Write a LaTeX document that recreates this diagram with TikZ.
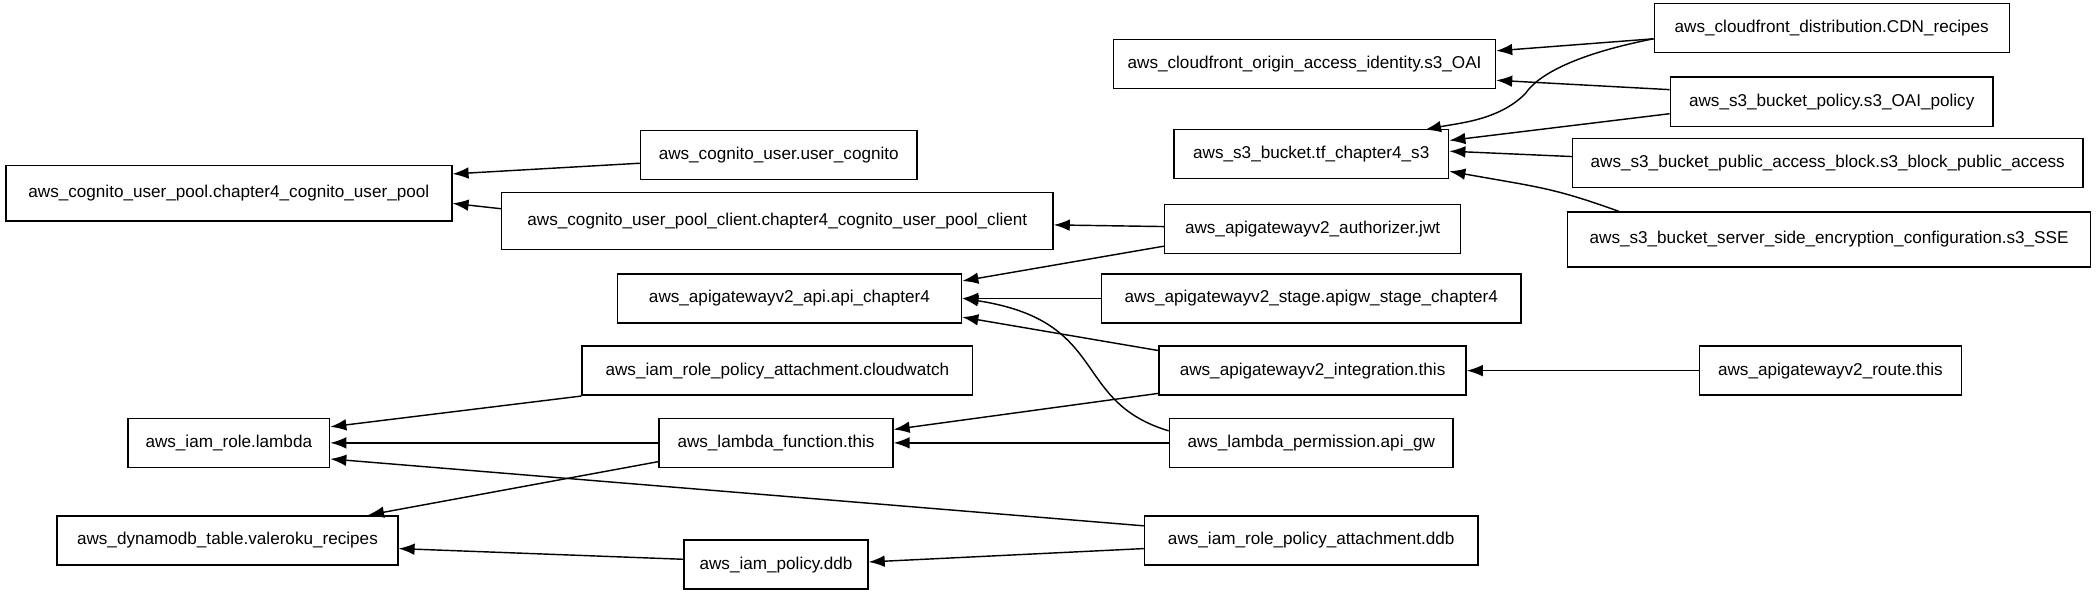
\documentclass[tikz,border=0pt]{standalone}
\usepackage{fontspec}
\setmainfont{Liberation Sans}
\usetikzlibrary{arrows.meta,calc}
\begin{document}
\begin{tikzpicture}[x=0.75pt,y=-0.75pt,
  box/.style={draw,thick,fill=white,minimum height=27.5pt,inner sep=2pt,font=\fontsize{9.6}{11}\selectfont},
  edge/.style={-{Latex[length=9pt,width=6.5pt]},thick}]
\useasboundingbox (0,0) rectangle (1568,445);
\fill[white] (0,0) rectangle (1568,445);
\node[box,minimum width=250pt,minimum height=31pt] (cup) at (171,144.5) {aws\_cognito\_user\_pool.chapter4\_cognito\_user\_pool};
\node[box,minimum width=155pt] (cu) at (582,116) {aws\_cognito\_user.user\_cognito};
\node[box,minimum width=309pt,minimum height=32pt] (cupc) at (581,165) {aws\_cognito\_user\_pool\_client.chapter4\_cognito\_user\_pool\_client};
\node[box,minimum width=166pt] (auth) at (981,171) {aws\_apigatewayv2\_authorizer.jwt};
\node[box,minimum width=193pt] (api) at (590,223) {aws\_apigatewayv2\_api.api\_chapter4};
\node[box,minimum width=235pt] (stage) at (980,223) {aws\_apigatewayv2\_stage.apigw\_stage\_chapter4};
\node[box,minimum width=172pt] (integ) at (981,277) {aws\_apigatewayv2\_integration.this};
\node[box,minimum width=147pt] (route) at (1368,277) {aws\_apigatewayv2\_route.this};
\node[box,minimum width=219pt] (cw) at (581,277) {aws\_iam\_role\_policy\_attachment.cloudwatch};
\node[box,minimum width=113pt] (role) at (171,331) {aws\_iam\_role.lambda};
\node[box,minimum width=131pt] (lf) at (580,331) {aws\_lambda\_function.this};
\node[box,minimum width=159pt] (perm) at (980,331) {aws\_lambda\_permission.api\_gw};
\node[box,minimum width=191pt] (ddbt) at (170,404) {aws\_dynamodb\_table.valeroku\_recipes};
\node[box,minimum width=103pt] (pol) at (580,422) {aws\_iam\_policy.ddb};
\node[box,minimum width=187pt] (rpa) at (980,404) {aws\_iam\_role\_policy\_attachment.ddb};
\node[box,minimum width=214pt] (oai) at (975,48) {aws\_cloudfront\_origin\_access\_identity.s3\_OAI};
\node[box,minimum width=199pt] (cdn) at (1369,21) {aws\_cloudfront\_distribution.CDN\_recipes};
\node[box,minimum width=181pt] (bpol) at (1369,76) {aws\_s3\_bucket\_policy.s3\_OAI\_policy};
\node[box,minimum width=154pt] (s3) at (980,115) {aws\_s3\_bucket.tf\_chapter4\_s3};
\node[box,minimum width=286pt] (pab) at (1366,122) {aws\_s3\_bucket\_public\_access\_block.s3\_block\_public\_access};
\node[box,minimum width=293pt,minimum height=31pt] (sse) at (1367,179) {aws\_s3\_bucket\_server\_side\_encryption\_configuration.s3\_SSE};

\draw[edge] (cu.west |- 0,122) -- (cup.east |- 0,130);
\draw[edge] (cupc.west |- 0,156) -- (cup.east |- 0,152);
\draw[edge] (auth) -- (cupc);
\draw[edge] (auth.west |- 0,184) -- (api.east |- 0,210);
\draw[edge] (stage) -- (api);
\draw[edge] (integ.west |- 0,262) -- (api.east |- 0,237);
\draw[edge] (perm.west |- 0,322) .. controls (800,300) and (830,240) .. (api.east);
\draw[edge] (route) -- (integ);
\draw[edge] (cw.west |- 0,296) -- (role.east |- 0,319);
\draw[edge] (lf) -- (role);
\draw[edge] (integ.west |- 0,294) -- (lf.east |- 0,321);
\draw[edge] (perm) -- (lf);
\draw[edge] (lf.west |- 0,345) -- (275,385);
\draw[edge] (rpa.west |- 0,393) -- (role.east |- 0,343);
\draw[edge] (rpa.west |- 0,410) -- (pol.east |- 0,420);
\draw[edge] (pol.west |- 0,418) -- (ddbt.east |- 0,410);
\draw[edge] (cdn.west |- 0,29) -- (oai.east |- 0,38);
\draw[edge] (cdn.west |- 0,29) .. controls (1180,40) and (1150,55) .. (1140,70) .. controls (1120,90) and (1090,92) .. (1065,97);
\draw[edge] (bpol.west |- 0,67) -- (oai.east |- 0,60);
\draw[edge] (bpol.west |- 0,85) -- (s3.east |- 0,105);
\draw[edge] (pab.west |- 0,117) -- (s3.east |- 0,113);
\draw[edge] (1210,158) .. controls (1160,140) and (1150,140) .. (s3.east |- 0,128);
\end{tikzpicture}
\end{document}
